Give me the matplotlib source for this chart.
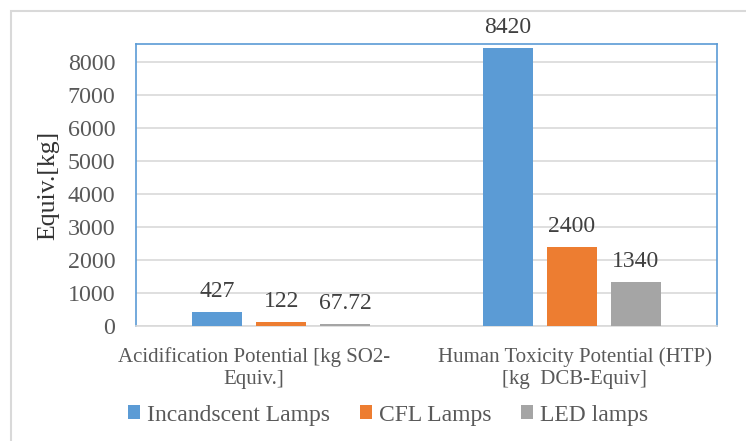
import numpy as np
import matplotlib.pyplot as plt
from matplotlib.patches import Rectangle
from matplotlib import transforms

categories = ["Acidification Potential [kg SO2-\nEquiv.]",
              "Human Toxicity Potential (HTP)\n[kg  DCB-Equiv]"]
series = ["Incandscent Lamps", "CFL Lamps", "LED lamps"]
incandescent = [427, 8420]
cfl = [122, 2400]
led = [67.72, 1340]
value_labels = [["427", "8420"], ["122", "2400"], ["67.72", "1340"]]
colors = ["#5B9BD5", "#ED7D31", "#A5A5A5"]
yticks = [0, 1000, 2000, 3000, 4000, 5000, 6000, 7000, 8000]

plt.rcParams["font.family"] = ["Liberation Serif", "DejaVu Serif"]
text_color = "#595959"

fig = plt.figure(figsize=(7.46, 4.41), dpi=100)
ax = fig.add_axes([136 / 746, 1 - 326 / 441, 581 / 746, 282 / 441])

# outer chart border (only left/top edges visible in the reference)
fig.patches.append(Rectangle((11 / 746, -0.1), 1.2, 1 - 11 / 441 + 0.1,
                             transform=fig.transFigure, fill=False,
                             edgecolor="#D9D9D9", linewidth=1.5))

x = np.arange(len(categories))
width = 0.172
offset = 0.22
for i, (vals, name) in enumerate(zip([incandescent, cfl, led], series)):
    pos = x + (i - 1) * offset
    ax.bar(pos, vals, width, color=colors[i], label=name, zorder=3)
    for p, v, lab in zip(pos, vals, value_labels[i]):
        ax.text(p, v + 300, lab, ha="center", va="bottom",
                fontsize=17, color="#404040")

ax.set_xlim(-0.5, 1.5)
ax.set_ylim(0, 8545)
ax.set_yticks(yticks)
ax.set_xticks(x)
ax.set_xticklabels([])
ax.tick_params(axis="y", labelsize=17.3, labelcolor=text_color, length=0, pad=15)
ax.tick_params(axis="x", length=0)
ax.yaxis.grid(True, color="#D9D9D9", linewidth=1.2, zorder=0)
ax.set_axisbelow(True)
for s in ax.spines.values():
    s.set_color("#5B9BD5")
    s.set_linewidth(1.2)
ax.spines["bottom"].set_color("#D9D9D9")

# category labels (first one sits left of its group in the reference)
shifts = [-27, 3]
for xi, lab, sh in zip(x, categories, shifts):
    tr = ax.get_xaxis_transform() + transforms.ScaledTranslation(sh / 100, 0, fig.dpi_scale_trans)
    ax.text(xi, -0.075, lab, transform=tr, ha="center", va="top",
            fontsize=15, color=text_color, linespacing=1.2)

ax.set_ylabel("Equiv.[kg]", fontsize=18.5, color="#333333", labelpad=6)

fig.legend(loc="center", bbox_to_anchor=(388 / 746, 1 - 415 / 441), ncol=3,
           frameon=False, fontsize=17, handlelength=0.5, handleheight=0.5,
           handletextpad=0.3, columnspacing=1.27, labelcolor=text_color)

fig.savefig("out.png", dpi=100)
